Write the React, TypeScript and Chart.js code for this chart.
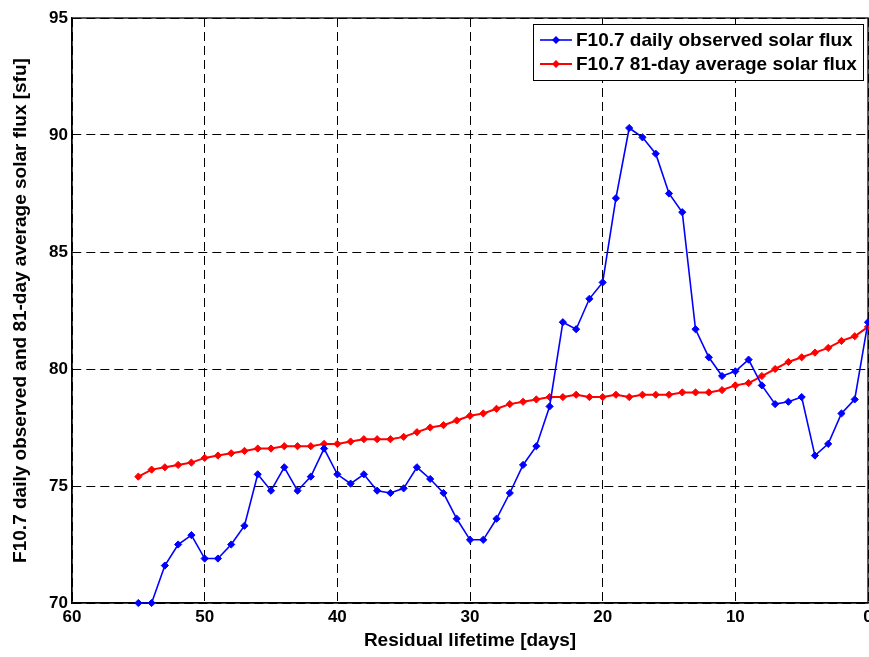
import React, { useEffect, useRef } from "react";
import { Chart, registerables } from "chart.js";

Chart.register(...registerables);

const days: number[] = [55, 54, 53, 52, 51, 50, 49, 48, 47, 46, 45, 44, 43, 42, 41, 40, 39, 38, 37, 36, 35, 34, 33, 32, 31, 30, 29, 28, 27, 26, 25, 24, 23, 22, 21, 20, 19, 18, 17, 16, 15, 14, 13, 12, 11, 10, 9, 8, 7, 6, 5, 4, 3, 2, 1, 0];

const dailyFlux: number[] = [70.0, 70.0, 71.6, 72.5, 72.9, 71.9, 71.9, 72.5, 73.3, 75.5, 74.8, 75.8, 74.8, 75.4, 76.6, 75.5, 75.1, 75.5, 74.8, 74.7, 74.9, 75.8, 75.3, 74.7, 73.6, 72.7, 72.7, 73.6, 74.7, 75.9, 76.7, 78.4, 82.0, 81.7, 83.0, 83.7, 87.3, 90.3, 89.9, 89.2, 87.5, 86.7, 81.7, 80.5, 79.7, 79.9, 80.4, 79.3, 78.5, 78.6, 78.8, 76.3, 76.8, 78.1, 78.7, 82.0];

const avgFlux: number[] = [75.4, 75.7, 75.8, 75.9, 76.0, 76.2, 76.3, 76.4, 76.5, 76.6, 76.6, 76.7, 76.7, 76.7, 76.8, 76.8, 76.9, 77.0, 77.0, 77.0, 77.1, 77.3, 77.5, 77.6, 77.8, 78.0, 78.1, 78.3, 78.5, 78.6, 78.7, 78.8, 78.8, 78.9, 78.8, 78.8, 78.9, 78.8, 78.9, 78.9, 78.9, 79.0, 79.0, 79.0, 79.1, 79.3, 79.4, 79.7, 80.0, 80.3, 80.5, 80.7, 80.9, 81.2, 81.4, 81.8];

const seriesLabels: string[] = ["F10.7 daily observed solar flux", "F10.7 81-day average solar flux"];
const xTitle = "Residual lifetime [days]";
const yTitle = "F10.7 daily observed and 81-day average solar flux [sfu]";

const FONT = "'Liberation Sans', Arial, Helvetica, sans-serif";

const fixedAreaPlugin = {
  id: "fixedArea",
  afterLayout(chart: any) {
    const area = chart.chartArea;
    const right = 868;
    area.right = right;
    area.width = right - area.left;
    const xs = chart.scales.x;
    if (xs) {
      xs.right = right;
      xs.width = right - xs.left;
      xs.configure();
    }
  },
};

const framePlugin = {
  id: "frame",
  beforeDatasetsDraw(chart: any) {
    const { ctx, chartArea } = chart;
    const { left, right, top, bottom } = chartArea;
    ctx.save();
    ctx.strokeStyle = "#000";
    ctx.lineWidth = 1.3;
    ctx.setLineDash([]);
    ctx.strokeRect(left, top, right - left, bottom - top);
    ctx.restore();
  },
};

const legendPlugin = {
  id: "customLegend",
  afterDraw(chart: any) {
    const { ctx } = chart;
    const bx = 533.5, by = 24.5, bw = 330, bh = 56;
    ctx.save();
    ctx.fillStyle = "#fff";
    ctx.fillRect(bx, by, bw, bh);
    ctx.strokeStyle = "#000";
    ctx.lineWidth = 1;
    ctx.setLineDash([]);
    ctx.strokeRect(bx, by, bw, bh);
    const rows = [40, 64];
    chart.data.datasets.forEach((ds: any, i: number) => {
      const y = rows[i];
      ctx.strokeStyle = ds.borderColor;
      ctx.lineWidth = ds.borderWidth;
      ctx.beginPath();
      ctx.moveTo(540, y);
      ctx.lineTo(572, y);
      ctx.stroke();
      const r = 4;
      ctx.fillStyle = ds.pointBackgroundColor;
      ctx.beginPath();
      ctx.moveTo(556, y - r);
      ctx.lineTo(556 + r, y);
      ctx.lineTo(556, y + r);
      ctx.lineTo(556 - r, y);
      ctx.closePath();
      ctx.fill();
      ctx.fillStyle = "#000";
      ctx.font = `bold 19px ${FONT}`;
      ctx.textAlign = "left";
      ctx.textBaseline = "middle";
      ctx.fillText(ds.label, 576, y + 1);
    });
    ctx.restore();
  },
};

export default function App() {
  const canvasRef = useRef<HTMLCanvasElement | null>(null);

  useEffect(() => {
    const canvas = canvasRef.current;
    if (!canvas) return;
    const dailyData = days.map((d, i) => ({ x: d, y: dailyFlux[i] }));
    const avgData = days.map((d, i) => ({ x: d, y: avgFlux[i] }));

    const chart = new Chart(canvas, {
      type: "line",
      data: {
        datasets: [
          {
            label: seriesLabels[0],
            data: dailyData,
            borderColor: "#0000ff",
            backgroundColor: "#0000ff",
            pointBackgroundColor: "#0000ff",
            pointBorderColor: "#0000ff",
            borderWidth: 1.6,
            pointStyle: "rectRot",
            pointRadius: 3.6,
            pointBorderWidth: 1,
            tension: 0,
            clip: false,
          } as any,
          {
            label: seriesLabels[1],
            data: avgData,
            borderColor: "#ff0000",
            backgroundColor: "#ff0000",
            pointBackgroundColor: "#ff0000",
            pointBorderColor: "#ff0000",
            borderWidth: 2,
            pointStyle: "rectRot",
            pointRadius: 3.6,
            pointBorderWidth: 1,
            tension: 0,
            clip: false,
          } as any,
        ],
      },
      options: {
        responsive: false,
        animation: false,
        events: [],
        layout: { padding: { left: 0, top: 18, right: 1, bottom: 0 } },
        plugins: {
          legend: { display: false },
          tooltip: { enabled: false },
        },
        scales: {
          x: {
            type: "linear",
            reverse: true,
            min: 0,
            max: 60,
            ticks: {
              stepSize: 10,
              color: "#000",
              padding: 4,
              font: { family: FONT, size: 17, weight: "bold" },
              maxRotation: 0,
            },
            grid: {
              color: "#000",
              lineWidth: 1,
              drawTicks: false,
            },
            border: { display: true, color: "#000", width: 1.3, dash: [9, 5] },
            title: {
              display: true,
              text: xTitle,
              color: "#000",
              font: { family: FONT, size: 19, weight: "bold" },
              padding: { top: 0, bottom: 5 },
            },
            afterFit(scale: any) {
              scale.height = 54;
              scale.paddingLeft = 0;
              scale.paddingRight = 0;
            },
          } as any,
          y: {
            type: "linear",
            min: 70,
            max: 95,
            ticks: {
              stepSize: 5,
              color: "#000",
              padding: 4,
              font: { family: FONT, size: 17, weight: "bold" },
            },
            grid: {
              color: "#000",
              lineWidth: 1,
              drawTicks: false,
            },
            border: { display: true, color: "#000", width: 1.3, dash: [9, 5] },
            title: {
              display: true,
              text: yTitle,
              color: "#000",
              font: { family: FONT, size: 19, weight: "bold" },
              padding: { top: 9, bottom: 0 },
            },
            afterFit(scale: any) {
              scale.width = 72;
              scale.paddingTop = 0;
              scale.paddingBottom = 0;
            },
          } as any,
        },
      },
      plugins: [fixedAreaPlugin, framePlugin, legendPlugin],
    });

    return () => {
      chart.destroy();
    };
  }, []);

  return (
    <div style={{ position: "fixed", left: 0, top: 0, width: 869, height: 657, background: "#fff" }}>
      <canvas ref={canvasRef} width={869} height={657} style={{ display: "block", width: 869, height: 657 }} />
    </div>
  );
}
